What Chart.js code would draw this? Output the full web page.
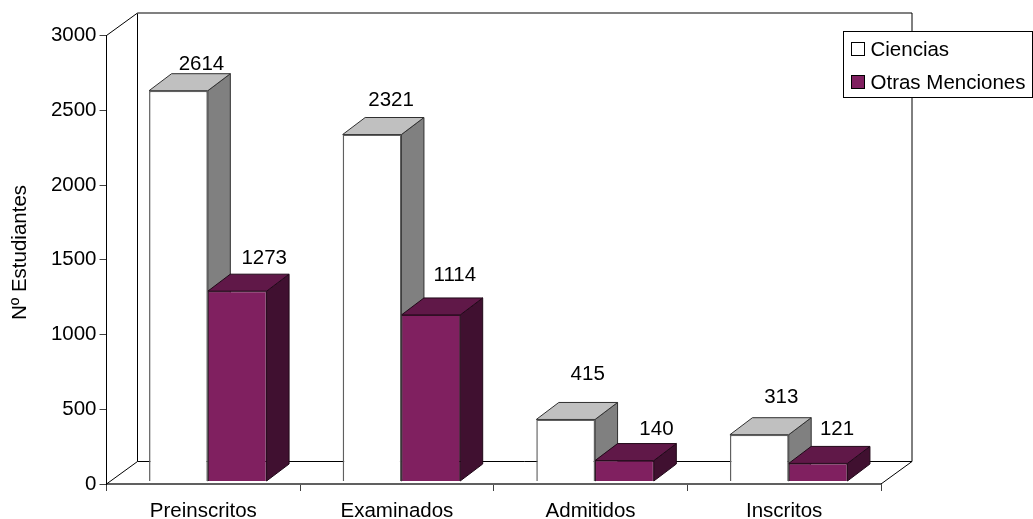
<!DOCTYPE html>
<html>
<head>
<meta charset="utf-8">
<title>Nº Estudiantes</title>
<style>
  html, body { margin:0; padding:0; background:#fff; }
  canvas { display:block; }
</style>
<script src="https://cdn.jsdelivr.net/npm/chart.js@4"></script>
</head>
<body>
<canvas id="grafico" width="1033" height="519"></canvas>
<script>
const categorias = ['Preinscritos', 'Examinados', 'Admitidos', 'Inscritos'];
const ciencias = [2614, 2321, 415, 313];
const otrasMenciones = [1273, 1114, 140, 121];
const yTicks = [0, 500, 1000, 1500, 2000, 2500, 3000];

const FONT = '"Liberation Sans", Arial, sans-serif';
const FONT_SIZE = 20.5;

// profundidad de la pared y de las barras
const WALL = { dx: 31, dy: 22.5 };
const BAR = { dx: 22.5, dy: 17 };
// las barras van un poco delante del eje
const BAR_SHIFT = { x: 4.5, y: -2.5 };

// desplazamiento de cada etiqueta respecto a la esquina de su barra
const nudgeCiencias = [[23, -26], [19, -34], [22, -45], [22, -37]];
const nudgeOtras = [[27, -33], [24, -40], [32, -31], [19, -34]];

const caras = [
  { top:'#c0c0c0', side:'#808080', line:'#303030' },
  { top:'#601848', side:'#401030', line:'#200818' }
];

function poly(ctx, pts, fill, stroke) {
  ctx.beginPath();
  pts.forEach((p, i) => i ? ctx.lineTo(p[0], p[1]) : ctx.moveTo(p[0], p[1]));
  ctx.closePath();
  if (fill) { ctx.fillStyle = fill; ctx.fill(); }
  if (stroke) { ctx.strokeStyle = stroke; ctx.lineWidth = 1; ctx.stroke(); }
}

function line(ctx, x0, y0, x1, y1, color, width) {
  ctx.beginPath();
  ctx.moveTo(x0, y0);
  ctx.lineTo(x1, y1);
  ctx.strokeStyle = color;
  ctx.lineWidth = width;
  ctx.stroke();
}

const caja3d = {
  id: 'caja3d',
  beforeDatasetsDraw(chart) {
    const ctx = chart.ctx;
    const a = chart.chartArea;
    // paredes y suelo
    line(ctx, a.left, a.top, a.left + WALL.dx, a.top - WALL.dy, '#000', 1);
    line(ctx, a.left + WALL.dx, a.top - WALL.dy, a.left + WALL.dx, a.bottom - WALL.dy, '#000', 1);
    line(ctx, a.left + WALL.dx, a.top - WALL.dy, a.right + WALL.dx, a.top - WALL.dy, '#808080', 2);
    line(ctx, a.right + WALL.dx, a.top - WALL.dy, a.right + WALL.dx, a.bottom - WALL.dy, '#000', 1);
    line(ctx, a.left + WALL.dx, a.bottom - WALL.dy, a.right + WALL.dx, a.bottom - WALL.dy, '#000', 1);
    line(ctx, a.left, a.bottom, a.left + WALL.dx, a.bottom - WALL.dy, '#000', 1);
    line(ctx, a.right, a.bottom, a.right + WALL.dx, a.bottom - WALL.dy, '#000', 1);

    // se deja el contexto desplazado: el frente de las barras lo pinta Chart.js
    ctx.save();
    ctx.translate(BAR_SHIFT.x, BAR_SHIFT.y);
    chart.data.datasets.forEach((ds, d) => {
      chart.getDatasetMeta(d).data.forEach(bar => {
        const l = bar.x - bar.width / 2;
        const r = bar.x + bar.width / 2;
        poly(ctx, [[r, bar.y], [r + BAR.dx, bar.y - BAR.dy], [r + BAR.dx, bar.base - BAR.dy], [r, bar.base]], caras[d].side, caras[d].line);
        poly(ctx, [[l, bar.y], [l + BAR.dx, bar.y - BAR.dy], [r + BAR.dx, bar.y - BAR.dy], [r, bar.y]], caras[d].top, caras[d].line);
      });
    });
  },
  afterDatasetsDraw(chart) {
    const ctx = chart.ctx;
    ctx.restore();

    ctx.save();
    ctx.fillStyle = '#000';
    ctx.font = FONT_SIZE + 'px ' + FONT;
    ctx.textAlign = 'center';
    ctx.textBaseline = 'middle';
    [nudgeCiencias, nudgeOtras].forEach((nudge, d) => {
      chart.getDatasetMeta(d).data.forEach((bar, i) => {
        const v = chart.data.datasets[d].data[i];
        ctx.fillText(String(v), bar.x + BAR_SHIFT.x + nudge[i][0], bar.y + BAR_SHIFT.y + nudge[i][1]);
      });
    });

    // titulo del eje, va algo por encima del centro
    ctx.save();
    ctx.translate(20, 252.5);
    ctx.rotate(-Math.PI / 2);
    ctx.fillText('Nº Estudiantes', 0, 0);
    ctx.restore();

    // leyenda
    ctx.fillStyle = '#fff';
    ctx.strokeStyle = '#000';
    ctx.lineWidth = 1;
    ctx.fillRect(843.5, 31.5, 189, 66);
    ctx.strokeRect(843.5, 31.5, 189, 66);
    ctx.textAlign = 'left';
    chart.data.datasets.forEach((ds, d) => {
      const y = 42.5 + d * 33;
      ctx.fillStyle = ds.backgroundColor;
      ctx.fillRect(851.5, y, 13, 13);
      ctx.strokeStyle = '#000';
      ctx.strokeRect(851.5, y, 13, 13);
      ctx.fillStyle = '#000';
      ctx.fillText(ds.label, 870.5, y + 7.5);
    });
    ctx.restore();
  }
};

new Chart(document.getElementById('grafico').getContext('2d'), {
  type: 'bar',
  data: {
    labels: categorias,
    datasets: [
      { label:'Ciencias', data:ciencias, backgroundColor:'#ffffff', borderColor:'#606060', borderWidth:1.5, clip:false },
      { label:'Otras Menciones', data:otrasMenciones, backgroundColor:'#802060', borderColor:'#301024', borderWidth:1, clip:false }
    ]
  },
  options: {
    responsive:false,
    animation:false,
    devicePixelRatio:1,
    layout:{ padding:{ left:0, top:35.5, right:152, bottom:0 } },
    categoryPercentage:0.607,
    barPercentage:1,
    scales: {
      x: {
        afterFit(s) { s.height = 35; },
        grid:{ drawOnChartArea:false, tickLength:7, color:'#404040', offset:true },
        border:{ color:'#606060', width:2 },
        ticks:{ color:'#000', font:{ family:FONT, size:FONT_SIZE }, padding:8, maxRotation:0 }
      },
      y: {
        min:0,
        max:3000,
        afterFit(s) { s.width = 106.5; },
        afterBuildTicks(s) { s.ticks = yTicks.map(v => ({ value:v })); },
        grid:{ drawOnChartArea:false, tickLength:7, color:'#404040' },
        border:{ color:'#000', width:1 },
        ticks:{ color:'#000', font:{ family:FONT, size:FONT_SIZE }, padding:3, callback: v => String(v) }
      }
    },
    plugins:{ legend:{ display:false }, tooltip:{ enabled:false } }
  },
  plugins:[caja3d]
});
</script>
</body>
</html>
